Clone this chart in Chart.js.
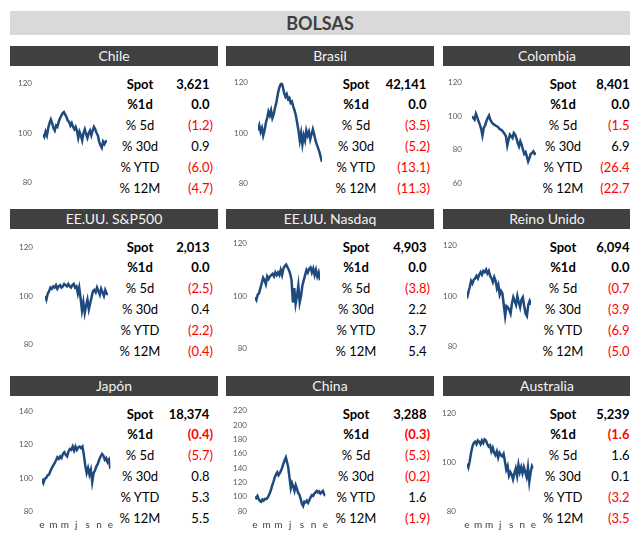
<!DOCTYPE html>
<html>
<head>
<meta charset="utf-8">
<script src="https://cdn.jsdelivr.net/npm/chart.js@4.4.1/dist/chart.umd.min.js"></script>
<style>
  body { margin: 0; width: 630px; height: 538px; overflow: hidden; background: #fff; position: relative; font-family: Lato, "Open Sans", sans-serif; }
  .title { position: absolute; left: 10px; top: 11px; width: 620px; height: 24px; background: #d9d9d9; color: #404040; font-weight: bold; font-size: 18px; line-height: 24px; text-align: center; }
  .head { position: absolute; width: 208px; height: 20px; background: #404040; color: #f2f2f2; font-size: 14px; line-height: 20px; text-align: center; }
  .lab { position: absolute; width: 70px; height: 20px; line-height: 20px; font-size: 13px; text-align: center; color: #000; }
  .val { position: absolute; width: 80px; height: 20px; line-height: 20px; font-size: 13px; text-align: right; color: #000; }
  .bold { font-weight: bold; }
  .neg { color: #ff0000; }
  canvas { position: absolute; }
</style>
</head>
<body>
<div class="title">BOLSAS</div>
<script>
// data
const markets = ["Chile", "Brasil", "Colombia", "EE.UU. S&P500", "EE.UU. Nasdaq", "Reino Unido", "Japón", "China", "Australia"];
const rowLabels = ["Spot", "%1d", "% 5d", "% 30d", "% YTD", "% 12M"];
const spot = [3621, 42141, 8401, 2013, 4903, 6094, 18374, 3288, 5239];
const chg1d = [0.0, 0.0, 0.0, 0.0, 0.0, 0.0, -0.4, -0.3, -1.6];
const chg5d = [-1.2, -3.5, -1.5, -2.5, -3.8, -0.7, -5.7, -5.3, 1.6];
const chg30d = [0.9, -5.2, 6.9, 0.4, 2.2, -3.9, 0.8, -0.2, 0.1];
const chgYtd = [-6.0, -13.1, -26.4, -2.2, 3.7, -6.9, 5.3, 1.6, -3.2];
const chg12m = [-4.7, -11.3, -22.7, -0.4, 5.4, -5.0, 5.5, -1.9, -3.5];
const monthLabels = ["e", "m", "m", "j", "s", "n", "e"];
const yMin = [80, 80, 60, 80, 80, 80, 80, 80, 80];
const yMax = [120, 120, 120, 120, 120, 120, 140, 220, 120];

const chile = [99.5, 98.5, 100.5, 99, 102, 104, 105.5, 104, 102, 101, 103, 102.5, 104.5, 106, 107, 108, 108.5, 107.5, 106.5, 105,
  104.5, 103, 104, 102.5, 101.5, 102.5, 101, 98, 100.5, 99, 97, 100, 101.5, 99.5, 98, 100, 101, 99, 101, 102.5,
  101.5, 100, 99, 96.5, 95, 94, 96.5, 95.5, 96.5, 97];
const brasil = [101, 103, 100.5, 102, 99, 101, 104, 106, 108.5, 107, 109, 106, 107.5, 110, 112, 115, 117.5, 119, 120, 118.5,
  116, 114.5, 115.5, 113.5, 114, 112, 112.5, 110.5, 109, 107, 104, 101, 97, 100, 95.5, 99, 97, 101, 99, 100.5,
  97.5, 99.5, 101.5, 99.5, 97, 95.5, 94, 92.5, 90.5, 88.5];
const colombia = [100, 99, 98, 101.5, 99.5, 97, 95, 92.5, 88.5, 93, 94.5, 97, 99, 100.5, 98, 96.5, 95.5, 95, 94.5, 94,
  93.5, 92.5, 92, 91.5, 90.5, 89.5, 88, 82.5, 86, 89, 88, 87, 90, 89, 87, 84, 82, 85, 83, 80,
  77.5, 78.5, 76, 73, 75, 77.5, 78, 79, 77.5, 78];
const spx = [100, 98.5, 101, 102, 103.5, 103, 104, 103.5, 104.5, 103, 104, 104.5, 103.5, 104, 105, 104.5, 104, 105, 104, 103.5,
  104.5, 105, 103.5, 104, 101, 103.5, 99, 94, 97.5, 93, 96, 98.5, 94.5, 97, 99.5, 102, 102.5, 101.5, 103.5, 102,
  100.5, 103, 101.5, 100, 102.5, 101, 100.5];
const nasdaq = [99.5, 98.5, 100.5, 101, 103, 105, 107, 106, 104.5, 107.5, 106.5, 107.5, 108, 108.5, 107.5, 109, 108, 109, 108, 110,
  108, 110.5, 111.5, 112, 111, 110, 108.5, 106, 97.5, 103, 97, 100, 104, 97.5, 100, 104, 106, 108, 110, 109,
  110.5, 111, 109, 110.5, 108, 110, 107.5, 109, 106];
const ftse = [99, 101.5, 103.5, 106, 105, 106.5, 107, 108, 107, 108.5, 109.5, 108.5, 110, 109.5, 110.5, 109, 110, 108, 107, 105.5,
  107.5, 106, 103, 104.5, 100.5, 102, 101, 96.5, 92, 96, 95.5, 94.5, 93, 97, 99.5, 98, 96.5, 100, 97.5, 95.5,
  98.5, 99.5, 96, 93, 92, 96.5, 98, 96.5];
const nikkei = [99.5, 97, 99.5, 100, 101.5, 102, 104, 106, 107.5, 109, 110.5, 112.5, 111.5, 113, 112, 114.5, 115.5, 114, 113, 116,
  117.5, 117, 119, 116.5, 119, 117, 118.5, 119, 118, 119, 114, 107.5, 103, 106, 102, 105, 97.5, 103, 104.5, 107,
  108.5, 111, 113, 114.5, 113.5, 111, 112, 109.5, 111, 105.5];
const shanghai = [100, 98, 101, 96.5, 94, 93, 96, 94.5, 97, 96.5, 98, 101, 105, 110, 116, 121, 127, 131, 134, 130,
  133, 136, 140.5, 146, 151, 155, 148, 140, 126, 112, 119, 114, 108, 116, 111, 105, 103, 97, 90, 87,
  93, 92, 94.5, 91.5, 95, 99, 102, 101, 104, 106, 108, 106, 107.5, 104.5, 106, 108, 103.5, 101];
const asx = [99.5, 98, 100.5, 104, 106.5, 108, 108.5, 107.5, 109, 108.5, 107.5, 109, 108, 109.5, 109, 107.5, 106.5, 107, 104.5, 106,
  104, 103, 104.5, 102, 104, 103, 102.5, 103.5, 100.5, 97, 98.5, 94.5, 96, 95, 93, 95.5, 97.5, 94.5, 99, 96,
  98, 95.5, 98, 96, 94, 98, 92, 96, 98.5, 97.5];

const series = [chile, brasil, colombia, spx, nasdaq, ftse, nikkei, shanghai, asx];
const changes = [chg1d, chg5d, chg30d, chgYtd, chg12m];

// layout
const colX = [10, 226, 443];
const headTop = [46, 209, 376];
const plotTop = [76, 239, 406];
const plotBottom = [190, 353, 519];
// plot left, plot right, tick label right edge
const plotBox = [[43, 107, 32], [258, 322, 248], [472, 536, 462],
  [45, 108, 33], [255, 320, 247], [467, 531, 457],
  [42, 113, 33], [255, 328, 247], [467, 536, 456]];
const labelCenter = [140, 356, 563];
const valueRight = [213, 430, 633];

function addDiv(cls, left, top, html) {
  const d = document.createElement("div");
  d.className = cls;
  d.style.left = left + "px";
  d.style.top = top + "px";
  d.innerHTML = html;
  document.body.appendChild(d);
  return d;
}

function fmt(v) {
  if (v < 0) return "(" + Math.abs(v).toFixed(1) + ")";
  return v.toFixed(1) + '<span style="visibility:hidden">)</span>';
}

markets.forEach((name, k) => {
  const col = k % 3, row = Math.floor(k / 3);
  const x0 = colX[col];
  addDiv("head", x0, headTop[row], name.replace("&", "&amp;"));

  // table
  for (let i = 0; i < rowLabels.length; i++) {
    const y = headTop[row] + 37.5 + 20.9 * i - 10;
    const bold = i < 2 ? " bold" : "";
    addDiv("lab" + bold, labelCenter[col] - 35, y, rowLabels[i]);
    let txt, neg = false;
    if (i === 0) {
      txt = spot[k].toLocaleString("en-US") + '<span style="visibility:hidden">)</span>';
    } else {
      const v = changes[i - 1][k];
      neg = v < 0;
      txt = fmt(v);
    }
    addDiv("val" + bold + (neg ? " neg" : ""), valueRight[col] - 80, y, txt);
  }

  // chart
  const [pl, pr, lr] = plotBox[k];
  const last = row === 2;
  const padTop = 8;
  const plotH = plotBottom[row] - plotTop[row];
  const cv = document.createElement("canvas");
  cv.width = pr - x0 + 8;
  cv.height = padTop + plotH + (last ? 20 : 8);
  cv.style.left = x0 + "px";
  cv.style.top = (plotTop[row] - padTop) + "px";
  document.body.appendChild(cv);

  const s = series[k];
  new Chart(cv, {
    type: "line",
    data: {
      datasets: [{
        data: s.map((v, i) => ({ x: i * 6 / (s.length - 1), y: v })),
        borderColor: "#1f4a7e",
        borderWidth: 2.5,
        pointRadius: 0,
        tension: 0
      }]
    },
    options: {
      responsive: false,
      animation: false,
      devicePixelRatio: 1,
      layout: { padding: { top: padTop, bottom: last ? 0 : 8, left: 0, right: 8 } },
      plugins: { legend: { display: false }, tooltip: { enabled: false } },
      scales: {
        x: {
          type: "linear", min: 0, max: 6, display: last,
          grid: { display: false, drawTicks: false }, border: { display: false },
          ticks: {
            stepSize: 1, padding: 8, maxRotation: 0, autoSkip: false,
            color: "#404040", font: { family: "Lato", size: 10 },
            callback: v => monthLabels[v]
          }
        },
        y: {
          min: yMin[k], max: yMax[k],
          grid: { display: false, drawTicks: false }, border: { display: false },
          afterFit: sc => { sc.width = pl - x0; },
          ticks: { stepSize: 20, padding: pl - lr, color: "#595959", font: { family: "Lato", size: 8 } }
        }
      }
    }
  });
});
</script>
</body>
</html>
